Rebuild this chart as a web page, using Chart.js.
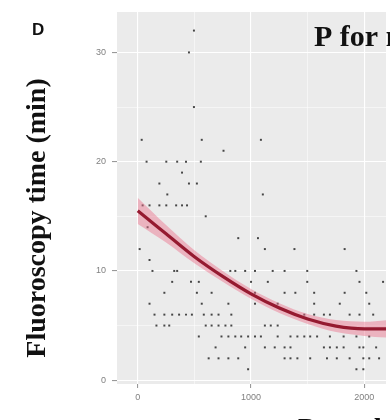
<!DOCTYPE html>
<html>
<head>
<meta charset="utf-8">
<script src="https://cdn.jsdelivr.net/npm/chart.js@4.4.1/dist/chart.umd.min.js"></script>
<style>
  body { margin: 0; background: #fff; }
  #wrap { width: 390px; height: 420px; }
</style>
</head>
<body>
<div id="wrap"><canvas id="fluoroChart" width="390" height="420"></canvas></div>
<script>
// scatter rows: each y value (min) with the x positions
const rowY = [32, 30, 25, 22, 21, 20, 19, 18, 17, 16, 15, 14, 13, 12, 11, 10, 9, 8, 7, 6, 5, 4, 3, 2, 1];
const rowX = [
  [496],
  [452],
  [496],
  [35, 565, 1087],
  [757],
  [78, 252, 348, 426, 557],
  [391],
  [191, 452, 522],
  [261, 1104],
  [43, 104, 191, 252, 339, 391, 435],
  [600],
  [87],
  [887, 1061],
  [17, 1122, 1383, 1826],
  [104, 539],
  [130, 322, 348, 817, 861, 948, 1035, 1191, 1296, 1496, 1930],
  [304, 470, 539, 1000, 1148, 1496, 1957, 2165],
  [235, 522, 652, 1035, 1296, 1391, 1557, 1826, 2017],
  [104, 565, 800, 1035, 1235, 1557, 1783, 2043],
  [148, 235, 304, 365, 426, 478, 583, 652, 713, 826, 1470, 1557, 1643, 1696, 1870, 1957, 2078],
  [165, 235, 278, 600, 652, 713, 774, 826, 1122, 1174, 1235],
  [539, 739, 800, 861, 913, 974, 1035, 1087, 1235, 1348, 1409, 1470, 1522, 1583, 1696, 1817, 1930, 2043],
  [687, 948, 1122, 1209, 1296, 1348, 1643, 1696, 1757, 1817, 1957, 1991, 2104],
  [626, 713, 800, 887, 1296, 1348, 1409, 1522, 1670, 1757, 1870, 1991, 2043, 2130],
  [974, 1930, 1991]
];

// fitted curve and its confidence band
const fitX    = [0, 250, 500, 750, 1000, 1250, 1500, 1750, 2000, 2200];
const fitY    = [15.5, 13.4, 11.3, 9.5, 7.9, 6.6, 5.6, 4.95, 4.7, 4.7];
const fitLow  = [14.3, 12.6, 10.7, 9.0, 7.45, 6.15, 5.15, 4.4, 4.05, 3.9];
const fitHigh = [16.7, 14.2, 11.9, 10.0, 8.35, 7.05, 6.05, 5.5, 5.35, 5.5];

const xTicks = [0, 500, 1000, 1500, 2000];
const yTicks = [0, 5, 10, 15, 20, 25, 30];

const points = [];
rowY.forEach((y, i) => rowX[i].forEach(x => points.push({x: x, y: y})));
const toXY = arr => arr.map((v, i) => ({x: fitX[i], y: v}));

const panelBg = {
  id: 'panelBg',
  beforeDraw(chart) {
    const {ctx, chartArea: a} = chart;
    ctx.save();
    ctx.fillStyle = '#ebebeb';
    ctx.fillRect(a.left, a.top, a.right - a.left, a.bottom - a.top);
    ctx.restore();
  }
};

const labels = {
  id: 'labels',
  afterDraw(chart) {
    const ctx = chart.ctx;
    ctx.save();
    ctx.fillStyle = '#111';
    ctx.font = 'bold 17px "Liberation Sans", Arial, sans-serif';
    ctx.textBaseline = 'alphabetic';
    ctx.fillText('D', 32, 35);

    ctx.font = 'bold 30px "Liberation Serif", "Times New Roman", serif';
    ctx.fillText('P for nonlinearity < 0.001', 314, 46);

    ctx.font = 'bold 28px "Liberation Serif", "Times New Roman", serif';
    ctx.fillText('Procedure volume', 298, 437);

    ctx.translate(45, 218);
    ctx.rotate(-Math.PI / 2);
    ctx.textAlign = 'center';
    ctx.fillText('Fluoroscopy time (min)', 0, 0);
    ctx.restore();
  }
};

new Chart(document.getElementById('fluoroChart'), {
  type: 'scatter',
  data: {
    datasets: [
      {
        type: 'line',
        data: toXY(fitY),
        borderColor: '#951a30',
        borderWidth: 3.2,
        pointRadius: 0,
        cubicInterpolationMode: 'monotone',
        order: 0
      },
      {
        type: 'line',
        data: toXY(fitHigh),
        borderColor: 'rgba(0,0,0,0)',
        borderWidth: 0,
        pointRadius: 0,
        backgroundColor: 'rgba(236,110,138,0.45)',
        fill: '+1',
        cubicInterpolationMode: 'monotone',
        order: 1
      },
      {
        type: 'line',
        data: toXY(fitLow),
        borderColor: 'rgba(0,0,0,0)',
        borderWidth: 0,
        pointRadius: 0,
        cubicInterpolationMode: 'monotone',
        order: 1
      },
      {
        data: points,
        pointStyle: 'rect',
        pointRadius: 1.4,
        backgroundColor: 'rgba(40,40,40,0.85)',
        borderWidth: 0,
        order: 2
      }
    ]
  },
  options: {
    responsive: false,
    animation: false,
    devicePixelRatio: 1,
    layout: { padding: { top: 12, left: 0, right: 0, bottom: 0 } },
    plugins: { legend: { display: false }, tooltip: { enabled: false } },
    scales: {
      x: {
        type: 'linear',
        min: -183,
        max: 2191,
        afterBuildTicks: s => { s.ticks = xTicks.map(v => ({value: v})); },
        afterFit: s => { s.height = 36; },
        border: { display: false },
        grid: {
          color: '#ffffff',
          lineWidth: c => (c.tick && c.tick.value % 1000 === 0) ? 1.1 : 0.5,
          tickColor: c => (c.tick && c.tick.value % 1000 === 0) ? '#999' : 'rgba(0,0,0,0)',
          tickLength: 4
        },
        ticks: {
          padding: 4,
          color: '#808080',
          font: { size: 9, family: 'Liberation Sans, Arial, sans-serif' },
          maxRotation: 0,
          callback: v => v % 1000 === 0 ? v : ''
        }
      },
      y: {
        min: -0.35,
        max: 33.7,
        afterBuildTicks: s => { s.ticks = yTicks.map(v => ({value: v})); },
        afterFit: s => { s.width = 117; },
        border: { display: false },
        grid: {
          color: '#ffffff',
          lineWidth: c => (c.tick && c.tick.value % 10 === 0) ? 1.1 : 0.5,
          tickColor: c => (c.tick && c.tick.value % 10 === 0) ? '#999' : 'rgba(0,0,0,0)',
          tickLength: 5
        },
        ticks: {
          padding: 6,
          color: '#808080',
          font: { size: 9, family: 'Liberation Sans, Arial, sans-serif' },
          callback: v => v % 10 === 0 ? v : ''
        }
      }
    }
  },
  plugins: [panelBg, labels]
});
</script>
</body>
</html>
